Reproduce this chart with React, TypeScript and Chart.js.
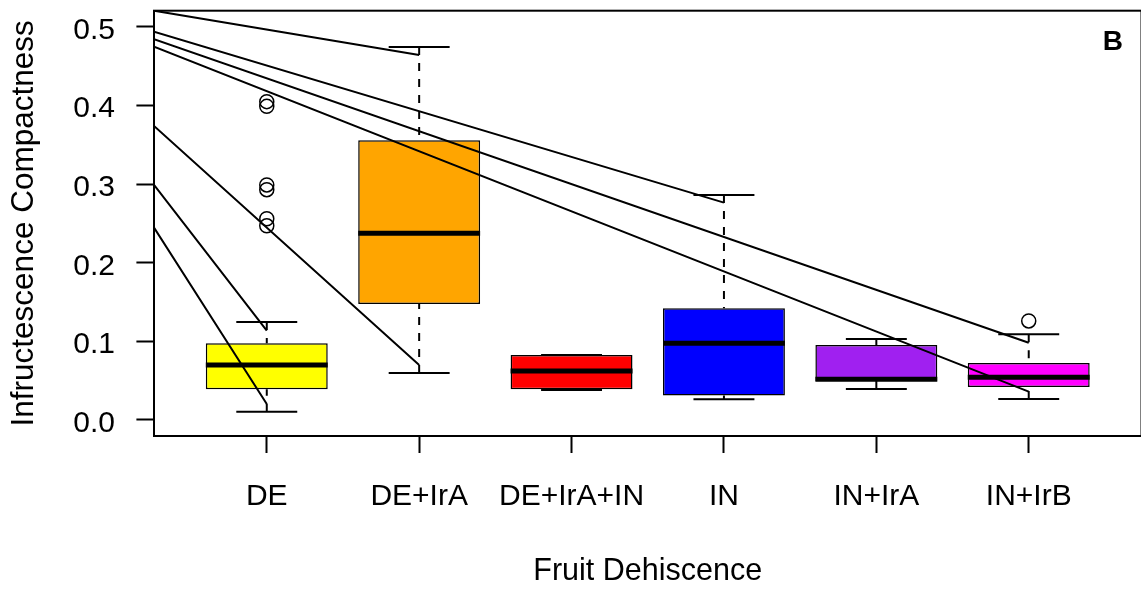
import React, { useEffect, useRef } from "react";
import { Chart, registerables } from "chart.js";

Chart.register(...registerables);

// ---- data ----
const categories = ["DE", "DE+IrA", "DE+IrA+IN", "IN", "IN+IrA", "IN+IrB"];
const boxColors = ["#FFFF00", "#FFA500", "#FF0000", "#0000FF", "#A020F0", "#FF00FF"];
const lowerWhisker = [0.0106, 0.0598, 0.038, 0.0263, 0.0394, 0.0267];
const q1 = [0.039, 0.1476, 0.039, 0.031, 0.0496, 0.042];
const median = [0.07, 0.2375, 0.0623, 0.0976, 0.0518, 0.0543];
const q3 = [0.0975, 0.356, 0.0827, 0.142, 0.0954, 0.0725];
const upperWhisker = [0.1247, 0.4746, 0.0827, 0.2863, 0.103, 0.109];

const outlierGroup = [1, 1, 1, 1, 1, 1, 6];
const outlierValue = [0.405, 0.399, 0.299, 0.293, 0.256, 0.247, 0.126];

// straight lines drawn from the left edge of the plot to a group position
const lineStartY = [0.5207, 0.494, 0.4844, 0.475, 0.374, 0.299, 0.2447];
const lineEndGroup = [2, 4, 6, 6, 2, 1, 1];
const lineEndY = [0.4644, 0.2765, 0.0983, 0.036, 0.07, 0.1136, 0.0204];

const yTicks = [0, 0.1, 0.2, 0.3, 0.4, 0.5];
const yTickLabels = ["0.0", "0.1", "0.2", "0.3", "0.4", "0.5"];

const xMin = 0.26;
const xMax = 6.74;
const yMin = -0.0204;
const yMax = 0.5207;

const FONT = '"Liberation Sans", Arial, Helvetica, sans-serif';
const BOX_HALF = 0.4;
const CAP_HALF = 0.2;

type P = { x: number; y: number | null };

function buildMedians(): P[] {
  const out: P[] = [];
  categories.forEach((_, i) => {
    const x = i + 1;
    out.push({ x: x - BOX_HALF, y: median[i] }, { x: x + BOX_HALF, y: median[i] }, { x, y: null });
  });
  return out;
}

// whiskers run from the whisker end towards the box (dash pattern starts at the end)
function buildWhiskers(): P[] {
  const out: P[] = [];
  categories.forEach((_, i) => {
    const x = i + 1;
    out.push({ x, y: upperWhisker[i] }, { x, y: q3[i] }, { x, y: null });
    out.push({ x, y: lowerWhisker[i] }, { x, y: q1[i] }, { x, y: null });
  });
  return out;
}

function buildCaps(): P[] {
  const out: P[] = [];
  categories.forEach((_, i) => {
    const x = i + 1;
    out.push({ x: x - CAP_HALF, y: upperWhisker[i] }, { x: x + CAP_HALF, y: upperWhisker[i] }, { x, y: null });
    out.push({ x: x - CAP_HALF, y: lowerWhisker[i] }, { x: x + CAP_HALF, y: lowerWhisker[i] }, { x, y: null });
  });
  return out;
}

function buildDiagonals(): P[] {
  const out: P[] = [];
  lineStartY.forEach((y0, k) => {
    out.push({ x: xMin, y: y0 }, { x: lineEndGroup[k], y: lineEndY[k] }, { x: lineEndGroup[k], y: null });
  });
  return out;
}

const framePlugin = {
  id: "frameAndLetter",
  afterDraw(chart: any) {
    const { ctx, chartArea } = chart;
    const { left, top, right, bottom } = chartArea;
    ctx.save();
    ctx.strokeStyle = "#000";
    ctx.lineWidth = 2;
    ctx.strokeRect(left, top, right - left, bottom - top);
    ctx.fillStyle = "#000";
    ctx.font = `bold 28px ${FONT}`;
    ctx.textAlign = "left";
    ctx.textBaseline = "alphabetic";
    ctx.fillText("B", right - 38.8, top + 39.3);
    ctx.restore();
  },
};

export default function App() {
  const ref = useRef<HTMLCanvasElement | null>(null);

  useEffect(() => {
    if (!ref.current) return;
    const chart = new Chart(ref.current, {
      type: "bar",
      data: {
        datasets: [
          {
            type: "line",
            data: buildDiagonals() as any,
            borderColor: "#000",
            borderWidth: 2,
            pointRadius: 0,
            spanGaps: false,
            order: 0,
          } as any,
          {
            type: "line",
            data: outlierGroup.map((g, k) => ({ x: g, y: outlierValue[k] })) as any,
            showLine: false,
            pointStyle: "circle",
            pointRadius: 7,
            pointBorderWidth: 1.5,
            pointBorderColor: "#000",
            pointBackgroundColor: "rgba(0,0,0,0)",
            order: 1,
          } as any,
          {
            type: "line",
            data: buildMedians() as any,
            borderColor: "#000",
            borderWidth: 5,
            borderCapStyle: "butt",
            pointRadius: 0,
            spanGaps: false,
            order: 2,
          } as any,
          {
            type: "line",
            data: buildCaps() as any,
            borderColor: "#000",
            borderWidth: 2,
            pointRadius: 0,
            spanGaps: false,
            order: 3,
          } as any,
          {
            type: "line",
            data: buildWhiskers() as any,
            borderColor: "#000",
            borderWidth: 2,
            borderDash: [8, 8],
            borderCapStyle: "butt",
            pointRadius: 0,
            spanGaps: false,
            order: 4,
          } as any,
          {
            type: "bar",
            data: categories.map((_, i) => ({ x: i + 1, y: [q1[i], q3[i]] })) as any,
            backgroundColor: boxColors,
            borderColor: "#000",
            borderWidth: 1.5,
            borderSkipped: false,
            barPercentage: 0.8,
            categoryPercentage: 1,
            order: 5,
          } as any,
        ],
      },
      options: {
        animation: false,
        responsive: false,
        maintainAspectRatio: false,
        events: [],
        layout: { padding: { top: 10.7, right: 6.2, left: 0, bottom: 0 } },
        plugins: { legend: { display: false }, tooltip: { enabled: false }, title: { display: false } },
        scales: {
          x: {
            type: "linear",
            min: xMin,
            max: xMax,
            offset: false,
            afterBuildTicks: (s: any) => {
              s.ticks = categories.map((_, i) => ({ value: i + 1 }));
            },
            afterFit: (s: any) => {
              s.height = 155;
              s.paddingLeft = 0;
              s.paddingRight = 0;
              s.paddingTop = 0;
              s.paddingBottom = 0;
            },
            ticks: {
              callback: (_v: any, i: number) => categories[i],
              font: { size: 30, family: FONT },
              color: "#000",
              padding: 25.3,
              maxRotation: 0,
              minRotation: 0,
              autoSkip: false,
            },
            grid: {
              offset: false,
              drawOnChartArea: false,
              drawTicks: true,
              tickLength: 17,
              tickWidth: 2,
              tickColor: "#000",
            },
            border: { display: true, color: "#000", width: 2 },
            title: {
              display: true,
              text: "Fruit Dehiscence",
              font: { size: 30.5, family: FONT },
              color: "#000",
              padding: { top: 0, bottom: 1.2 },
            },
          },
          y: {
            type: "linear",
            min: yMin,
            max: yMax,
            beginAtZero: false,
            afterBuildTicks: (s: any) => {
              s.ticks = yTicks.map((v) => ({ value: v }));
            },
            afterFit: (s: any) => {
              s.width = 154;
              s.paddingTop = 0;
              s.paddingBottom = 0;
              s.paddingLeft = 0;
              s.paddingRight = 0;
            },
            ticks: {
              callback: (_v: any, i: number) => yTickLabels[i],
              font: { size: 30, family: FONT },
              color: "#000",
              padding: 21.4,
              labelOffset: 3.5,
              autoSkip: false,
            },
            grid: {
              drawOnChartArea: false,
              drawTicks: true,
              tickLength: 17.6,
              tickWidth: 2,
              tickColor: "#000",
            },
            border: { display: true, color: "#000", width: 2 },
            title: {
              display: true,
              text: "Infructescence Compactness",
              font: { size: 31.5, family: FONT },
              color: "#000",
              padding: { top: 5.1, bottom: 0 },
            },
          },
        },
      } as any,
      plugins: [framePlugin],
    });
    return () => chart.destroy();
  }, []);

  return (
    <div
      style={{
        position: "fixed",
        left: 0,
        top: 0,
        width: 1141,
        height: 591,
        overflow: "hidden",
        background: "#fff",
      }}
    >
      <canvas ref={ref} width={1150} height={591} style={{ display: "block", width: 1150, height: 591 }} />
    </div>
  );
}
